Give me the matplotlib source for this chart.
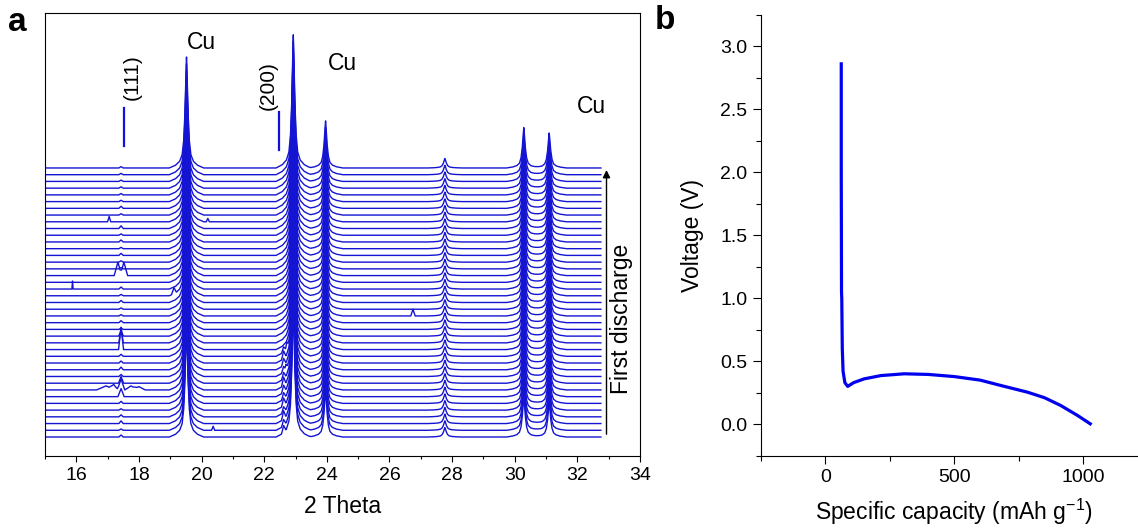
import numpy as np
import matplotlib.pyplot as plt
from matplotlib.ticker import MultipleLocator

plt.rcParams['font.family'] = ['Liberation Sans', 'DejaVu Sans']

# ---- panel a : in-situ XRD scans (intensity in units of the scan offset) ----
n_scans = 41
tt_start, tt_end = 15.0, 32.75

# reflections present in every scan
peak_pos = [19.52, 22.93, 23.96, 27.77, 30.29, 31.10]
peak_height = [16.5, 19.8, 7.0, 1.4, 6.0, 5.2]
# profile of one reflection
shape_dx = [-0.55, -0.35, -0.22, -0.14, -0.09, -0.05, -0.02, 0.0,
            0.02, 0.05, 0.09, 0.14, 0.22, 0.35, 0.55]
shape_frac = [0.0, 0.025, 0.06, 0.12, 0.25, 0.50, 0.82, 1.0,
              0.82, 0.50, 0.25, 0.12, 0.06, 0.025, 0.0]

# small (111) bump at 17.43 in each scan (bottom scan first)
bump_1743 = [0.3, 0.2, 0.4, 0.3, 0.2, 0.3, 0.0, 0.0, 0.0, 0.3, 0.4, 0.3, 0.3, 0.0,
             0.0, 0.0, 0.2, 0.3, 0.2, 0.2, 0.3, 0.2, 0.3, 0.0, 0.0, 0.2, 0.2, 0.3,
             0.2, 0.3, 0.2, 0.4, 0.0, 0.2, 0.3, 0.2, 0.2, 0.2, 0.2, 0.2, 0.2]
# (200) shoulder at 22.62 in the first scans
shoulder_2262 = [1.0, 0.9, 1.2, 0.8, 1.1, 0.9, 1.0, 1.2, 0.9, 0.8, 1.0, 1.1, 0.7]

# other features: scan index, position, height, half width
feat_scan = [32, 32, 24, 24, 22, 21, 15, 14, 13, 8, 7, 7, 7, 7, 7, 6, 18, 1, 12, 9]
feat_pos = [17.05, 20.20, 17.33, 17.52, 15.88, 19.12, 17.43, 17.43, 17.43, 17.43,
            16.95, 17.20, 17.43, 17.75, 18.00, 17.43, 26.75, 20.37, 22.72, 22.70]
feat_h = [0.8, 0.5, 2.0, 2.0, 1.2, 0.9, 0.7, 2.3, 3.3, 1.0,
          0.6, 0.7, 1.6, 0.6, 0.5, 1.2, 1.0, 0.6, 0.8, 0.7]
feat_w = [0.05, 0.05, 0.12, 0.12, 0.02, 0.08, 0.08, 0.07, 0.08, 0.08,
          0.30, 0.15, 0.12, 0.20, 0.20, 0.10, 0.07, 0.05, 0.04, 0.04]

# ---- panel b : first discharge curve ----
capacity = [62, 62, 63, 64, 66, 69, 76, 87, 110, 151, 216, 306, 400, 500,
            600, 681, 784, 850, 913, 978, 1027]
voltage = [2.86, 2.0, 1.05, 1.0, 0.6, 0.42, 0.33, 0.30, 0.33, 0.36, 0.386, 0.40,
           0.395, 0.378, 0.35, 0.307, 0.254, 0.21, 0.148, 0.069, 0.003]

fig = plt.figure(figsize=(11.38, 5.31), dpi=100)
ax = fig.add_axes([0.0395, 0.1418, 0.5229, 0.8332])
ax2 = fig.add_axes([0.6685, 0.1418, 0.3401, 0.8305])

line_col = '#1414d2'
for i in range(n_scans):
    comps = []
    for p, h in zip(peak_pos, peak_height):
        comps.append((p + np.array(shape_dx), h * np.array(shape_frac)))
    if bump_1743[i] > 0:
        comps.append((np.array([17.36, 17.43, 17.50]), np.array([0, bump_1743[i], 0])))
    if i < len(shoulder_2262):
        comps.append((np.array([22.55, 22.62, 22.69]), np.array([0, shoulder_2262[i], 0])))
    for s, p, h, w in zip(feat_scan, feat_pos, feat_h, feat_w):
        if s == i:
            comps.append((np.array([p - w, p, p + w]), np.array([0, h, 0])))
    grid = np.unique(np.concatenate([[tt_start, tt_end]] + [c[0] for c in comps]))
    grid = grid[(grid >= tt_start) & (grid <= tt_end)]
    y = np.full(grid.shape, float(i))
    for cx, cy in comps:
        y += np.interp(grid, cx, cy, left=0, right=0)
    ax.plot(grid, y, color=line_col, lw=1.0)

ax.set_xlim(15, 34)
ax.set_ylim(-2.78, 63.0)
ax.set_yticks([])
ax.xaxis.set_major_locator(MultipleLocator(2))
ax.xaxis.set_minor_locator(MultipleLocator(1))
ax.tick_params(axis='x', which='major', length=4.5, width=0.8, labelsize=14, direction='out')
ax.tick_params(axis='x', which='minor', length=2.5, width=0.8, direction='out')
for sp in ax.spines.values():
    sp.set_linewidth(0.8)
ax.set_xlabel('2 Theta', fontsize=16.5, labelpad=8)

# reflection markers and labels
ax.plot([17.53, 17.53], [43.3, 48.9], color='#1010e0', lw=1.6)
ax.plot([22.48, 22.48], [42.7, 48.3], color='#1010e0', lw=1.6)
ax.text(17.80, 53.5, '(111)', rotation=90, fontsize=15, ha='center', va='center')
ax.text(22.12, 52.3, '(200)', rotation=90, fontsize=15, ha='center', va='center')
ax.text(20.0, 58.6, 'Cu', fontsize=16.5, ha='center', va='center')
ax.text(24.5, 55.6, 'Cu', fontsize=16.5, ha='center', va='center')
ax.text(32.45, 49.1, 'Cu', fontsize=16.5, ha='center', va='center')

ax.annotate('', xy=(32.93, 40.1), xytext=(32.93, 0),
            arrowprops=dict(arrowstyle='-|>', color='black', lw=1.0, mutation_scale=11))
ax.text(33.41, 17.5, 'First discharge', rotation=90, fontsize=16.5, ha='center', va='center')

# panel b
ax2.plot(capacity, voltage, color='#0000ee', lw=2.3)
ax2.set_xlim(-250, 1250)
ax2.set_ylim(-0.25, 3.25)
ax2.spines['top'].set_visible(False)
ax2.spines['right'].set_visible(False)
for sp in ax2.spines.values():
    sp.set_linewidth(0.8)
ax2.xaxis.set_major_locator(MultipleLocator(500))
ax2.xaxis.set_minor_locator(MultipleLocator(250))
ax2.yaxis.set_major_locator(MultipleLocator(0.5))
ax2.yaxis.set_minor_locator(MultipleLocator(0.25))
ax2.yaxis.set_major_formatter(plt.FormatStrFormatter('%.1f'))
ax2.tick_params(which='major', length=6, width=0.8, labelsize=14, direction='out')
ax2.tick_params(which='minor', length=3.5, width=0.8, direction='out')
ax2.set_xlabel('Specific capacity (mAh g$^{\\mathregular{-1}}$)', fontsize=16.5, labelpad=8)
ax2.set_ylabel('Voltage (V)', fontsize=16.5, labelpad=12)

fig.text(0.015, 0.957, 'a', fontsize=24, fontweight='bold', ha='center', va='center')
fig.text(0.584, 0.961, 'b', fontsize=24, fontweight='bold', ha='center', va='center')

fig.savefig('out.png', dpi=100)
